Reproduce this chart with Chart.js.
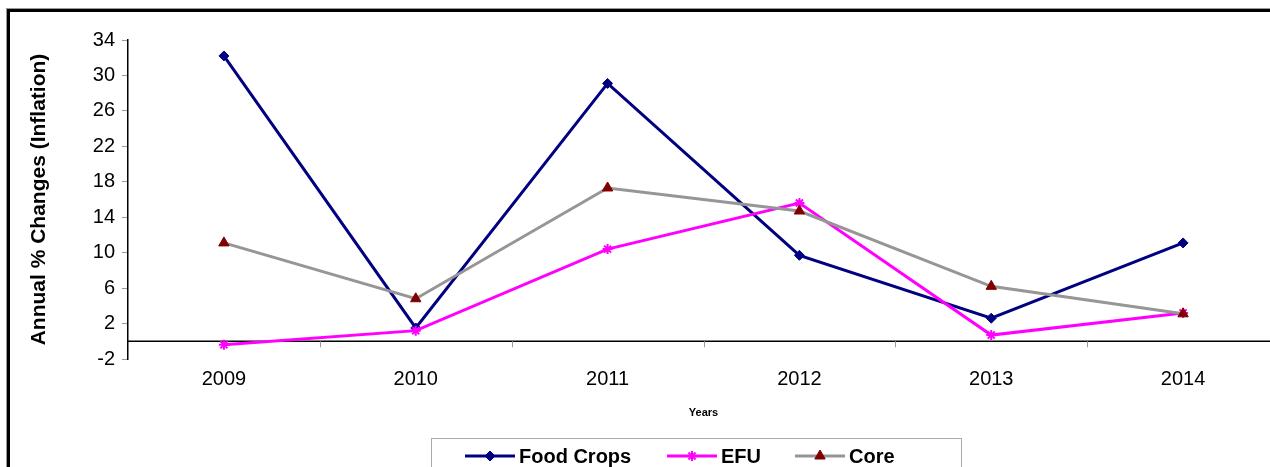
<!DOCTYPE html>
<html>
<head>
<meta charset="utf-8">
<script src="https://cdn.jsdelivr.net/npm/chart.js@4/dist/chart.umd.min.js"></script>
<style>
    html, body { margin: 0; padding: 0; background: #fff; overflow: hidden; }
    .frame {
        position: absolute; left: 7px; top: 9px; width: 1400px; height: 600px;
        border-left: 3px solid #000; border-top: 3px solid #000;
        box-shadow: -1px -1px 0 #999;
    }
    .wrap { position: absolute; left: 0; top: 0; width: 1300px; height: 467px; }
</style>
</head>
<body>
<div class="frame"></div>
<div class="wrap"><canvas id="inflationChart" width="1300" height="467"></canvas></div>
<script>
// Data
const years = ['2009', '2010', '2011', '2012', '2013', '2014'];
const foodCrops = [32.2, 1.5, 29.1, 9.7, 2.6, 11.1];
const efu = [-0.4, 1.2, 10.4, 15.6, 0.7, 3.2];
const core = [11.1, 4.8, 17.3, 14.7, 6.2, 3.1];
const yTicks = [-2, 2, 6, 10, 14, 18, 22, 26, 30, 34];

const FONT = '"Liberation Sans", Arial, sans-serif';

// Zero line + category ticks hanging from it
const zeroLinePlugin = {
    id: 'zeroLine',
    beforeDatasetsDraw(chart) {
        const { ctx, chartArea, scales } = chart;
        const y0 = scales.y.getPixelForValue(0);
        ctx.save();
        ctx.strokeStyle = '#000';
        ctx.lineWidth = 1.5;
        ctx.beginPath();
        ctx.moveTo(chartArea.left, y0);
        ctx.lineTo(chartArea.right, y0);
        ctx.stroke();
        ctx.strokeStyle = '#999';
        ctx.lineWidth = 1;
        const step = (chartArea.right - chartArea.left) / years.length;
        for (let i = 1; i <= years.length; i++) {
            const x = Math.round(chartArea.left + i * step) + 0.5;
            ctx.beginPath();
            ctx.moveTo(x, y0);
            ctx.lineTo(x, y0 + 6);
            ctx.stroke();
        }
        ctx.restore();
    }
};

// Legend box at the bottom
const boxLegendPlugin = {
    id: 'boxLegend',
    afterDraw(chart) {
        const { ctx } = chart;
        const box = { left: 431, top: 438, right: 961, bottom: 480 };
        ctx.save();
        ctx.strokeStyle = '#aaa';
        ctx.lineWidth = 1;
        ctx.strokeRect(box.left + 0.5, box.top + 0.5, box.right - box.left, box.bottom - box.top);
        const starts = [465, 667, 795];
        const ly = 456;
        ctx.font = 'bold 20px ' + FONT;
        ctx.textBaseline = 'middle';
        ctx.textAlign = 'left';
        chart.data.datasets.forEach((ds, i) => {
            const x = starts[i];
            ctx.strokeStyle = ds.borderColor;
            ctx.lineWidth = 3;
            ctx.beginPath();
            ctx.moveTo(x, ly);
            ctx.lineTo(x + 50, ly);
            ctx.stroke();
            ctx.fillStyle = ds.pointBackgroundColor;
            ctx.strokeStyle = ds.pointBorderColor;
            ctx.lineWidth = ds.pointBorderWidth;
            Chart.helpers.drawPoint(ctx, {
                pointStyle: ds.pointStyle, radius: ds.pointRadius, rotation: 0, borderWidth: ds.pointBorderWidth
            }, x + 25, ly);
            ctx.fillStyle = '#000';
            ctx.fillText(ds.label, x + 54, ly + 1);
        });
        ctx.restore();
    }
};

const ctx = document.getElementById('inflationChart');
new Chart(ctx, {
    type: 'line',
    data: {
        labels: years,
        datasets: [{
            label: 'Food Crops',
            data: foodCrops,
            borderColor: '#000080',
            borderWidth: 3,
            pointStyle: 'rectRot',
            pointRadius: 5,
            pointBackgroundColor: '#000080',
            pointBorderColor: '#000080',
            pointBorderWidth: 1,
            tension: 0,
            order: 2
        }, {
            label: 'EFU',
            data: efu,
            borderColor: '#ff00ff',
            borderWidth: 3,
            pointStyle: 'star',
            pointRadius: 5,
            pointBackgroundColor: '#ff00ff',
            pointBorderColor: '#ff00ff',
            pointBorderWidth: 2,
            tension: 0,
            order: 1
        }, {
            label: 'Core',
            data: core,
            borderColor: '#969696',
            borderWidth: 3,
            pointStyle: 'triangle',
            pointRadius: 6,
            pointBackgroundColor: '#800000',
            pointBorderColor: '#800000',
            pointBorderWidth: 1,
            tension: 0,
            order: 0
        }]
    },
    options: {
        responsive: false,
        animation: false,
        layout: { padding: { left: 0, top: 40, right: 21, bottom: 0 } },
        plugins: {
            legend: { display: false },
            tooltip: { enabled: false }
        },
        scales: {
            x: {
                offset: true,
                grid: { display: false, offset: true },
                border: { display: false },
                ticks: { color: '#000', font: { family: FONT, size: 20 }, padding: 0, maxRotation: 0 },
                title: {
                    display: true,
                    text: 'Years',
                    color: '#000',
                    font: { family: FONT, size: 11, weight: 'bold' },
                    padding: { top: 0, bottom: 47 }
                },
                afterFit(scale) { scale.height = 108; }
            },
            y: {
                min: -2,
                max: 34,
                afterBuildTicks(scale) { scale.ticks = yTicks.map(v => ({ value: v })); },
                grid: { drawOnChartArea: false, tickColor: '#999', tickLength: 6 },
                border: { color: '#000', width: 1.5 },
                ticks: { color: '#000', font: { family: FONT, size: 20 }, padding: 7 },
                title: {
                    display: true,
                    text: 'Annual % Changes (Inflation)',
                    color: '#000',
                    font: { family: FONT, size: 21, weight: 'bold' },
                    padding: { top: 27, bottom: 0 }
                },
                afterFit(scale) { scale.width = 128; }
            }
        }
    },
    plugins: [zeroLinePlugin, boxLegendPlugin]
});
</script>
</body>
</html>
